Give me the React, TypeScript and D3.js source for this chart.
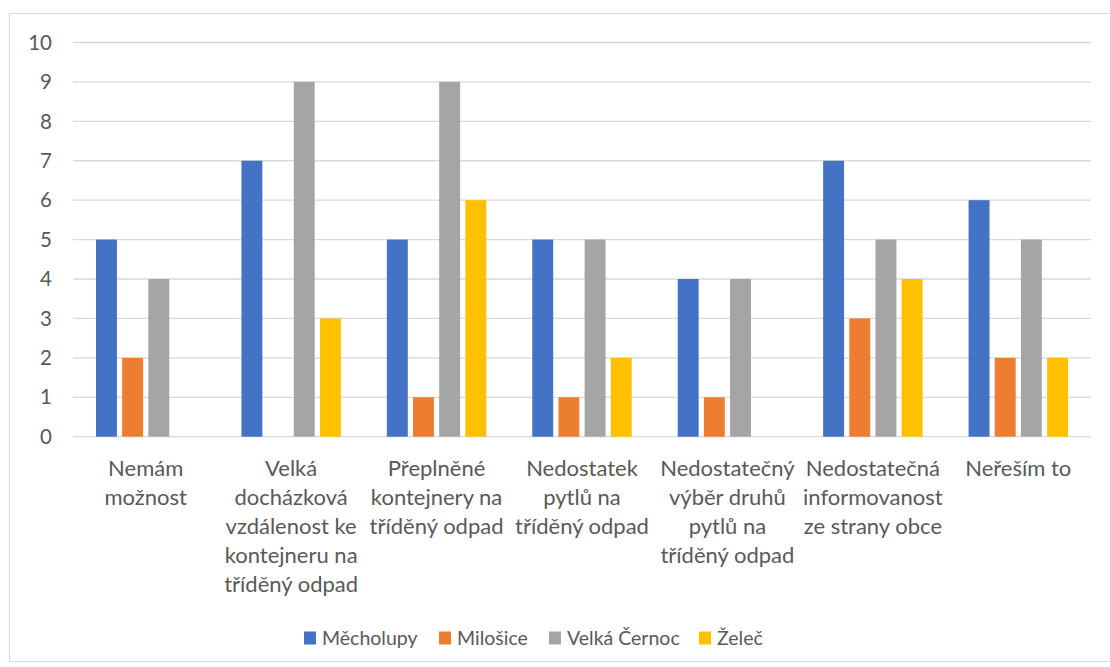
import React from 'react'
import * as d3 from 'd3'

const categories = [
  ['Nemám', 'možnost'],
  ['Velká', 'docházková', 'vzdálenost ke', 'kontejneru na', 'tříděný odpad'],
  ['Přeplněné', 'kontejnery na', 'tříděný odpad'],
  ['Nedostatek', 'pytlů na', 'tříděný odpad'],
  ['Nedostatečný', 'výběr druhů', 'pytlů na', 'tříděný odpad'],
  ['Nedostatečná', 'informovanost', 'ze strany obce'],
  ['Neřeším to'],
]
const series = ['Měcholupy', 'Milošice', 'Velká Černoc', 'Želeč']
const mecholupy = [5, 7, 5, 5, 4, 7, 6]
const milosice = [2, 0, 1, 1, 1, 3, 2]
const velkaCernoc = [4, 9, 9, 5, 4, 5, 5]
const zelec = [0, 3, 6, 2, 0, 4, 2]
const yTicks = [0, 1, 2, 3, 4, 5, 6, 7, 8, 9, 10]

const colors = ['#4472C4', '#ED7D31', '#A5A5A5', '#FFC000']
const values = [mecholupy, milosice, velkaCernoc, zelec]
const font = 'Lato, "Open Sans", sans-serif'
const textColor = '#595959'

export default function App () {
  const left = 73
  const right = 1091
  const top = 42.5
  const bottom = 436.7

  const x0 = d3.scaleBand<number>()
    .domain(categories.map((_, i) => i))
    .range([left, right])
  const x1 = d3.scaleBand<string>()
    .domain(series)
    .range([23, x0.bandwidth() - 23])
    .paddingInner(0.2)
  const y = d3.scaleLinear().domain([0, 10]).range([bottom, top])

  // legend layout
  const legendX = [304, 439, 549, 699]

  return (
    <svg width={1110} height={667} style={{ position: 'absolute', left: 0, top: 0, background: '#fff' }}
      fontFamily={font}>
      <rect x={9.5} y={13.5} width={1110} height={648} fill="#fff" stroke="#D9D9D9" />

      {yTicks.map(t => (
        <g key={t}>
          <line x1={left} x2={right} y1={y(t)} y2={y(t)} stroke="#D9D9D9" strokeWidth={1.3} />
          <text x={52} y={y(t)} dy="0.35em" textAnchor="end" fontSize={20.5} fill={textColor}>{t}</text>
        </g>
      ))}

      {categories.map((cat, i) => (
        <g key={i} transform={`translate(${x0(i)},0)`}>
          {values.map((vals, s) => vals[i] > 0 && (
            <rect key={s} x={x1(series[s])} width={x1.bandwidth()}
              y={y(vals[i])} height={y(0) - y(vals[i])} fill={colors[s]} />
          ))}
          {cat.map((line, l) => (
            <text key={l} x={x0.bandwidth() / 2} y={468 + l * 29} dy="0.35em"
              textAnchor="middle" fontSize={22} fill={textColor}>{line}</text>
          ))}
        </g>
      ))}

      {series.map((s, i) => (
        <g key={s} transform={`translate(${legendX[i]},638)`}>
          <rect x={0} y={-6.5} width={12} height={13} fill={colors[i]} />
          <text x={18} y={0} dy="0.35em" fontSize={19.5} fill={textColor}>{s}</text>
        </g>
      ))}
    </svg>
  )
}
